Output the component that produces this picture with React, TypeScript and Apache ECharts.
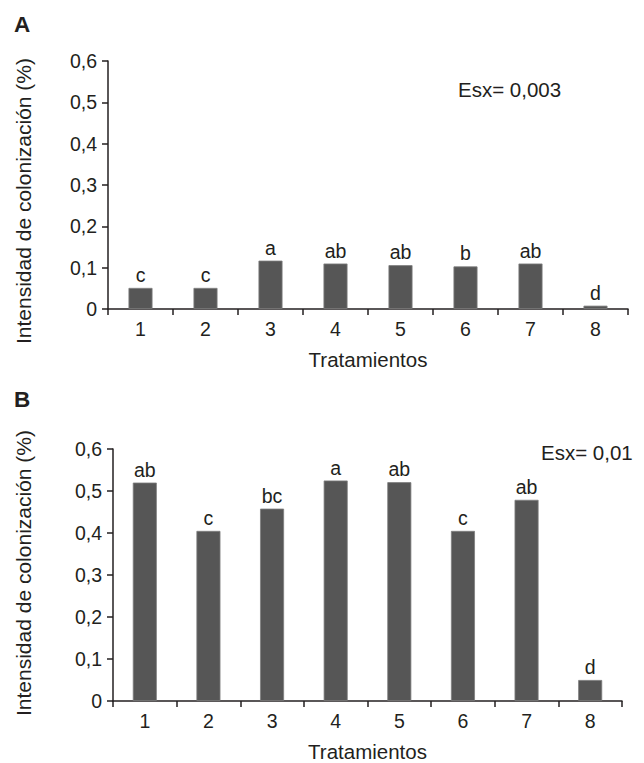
import React, { useEffect, useRef } from "react";
import * as echarts from "echarts";

const treatments = ["1", "2", "3", "4", "5", "6", "7", "8"];
const valuesA = [0.051, 0.051, 0.117, 0.11, 0.106, 0.103, 0.11, 0.008];
const lettersA = ["c", "c", "a", "ab", "ab", "b", "ab", "d"];
const valuesB = [0.52, 0.405, 0.458, 0.525, 0.521, 0.405, 0.479, 0.05];
const lettersB = ["ab", "c", "bc", "a", "ab", "c", "ab", "d"];
const panelTitles = ["A", "B"];
const esxTexts = ["Esx= 0,003", "Esx= 0,01"];
const yAxisTitle = "Intensidad de colonización (%)";
const xAxisTitle = "Tratamientos";

const FONT = "Liberation Sans, Arial, Helvetica, sans-serif";
const INK = "#231f20";
const BAR = "#565656";

export default function App() {
  const ref = useRef<HTMLDivElement>(null);
  useEffect(() => {
    if (!ref.current) return;
    const chart = echarts.init(ref.current, null, { renderer: "svg" });
    const fmt = (v: number) => (v === 0 ? "0" : v.toFixed(1).replace(".", ","));
    const mkX = (gridIndex: number) => ({
      type: "category",
      gridIndex,
      data: treatments,
      name: xAxisTitle,
      nameLocation: "middle",
      nameGap: 40,
      nameTextStyle: { fontFamily: FONT, fontSize: 20.5, color: INK },
      axisLine: { lineStyle: { color: INK, width: 1.5 } },
      axisTick: { show: true, length: 6, interval: 0, lineStyle: { color: INK, width: 1.5 } },
      axisLabel: { fontFamily: FONT, fontSize: 19.5, color: INK, margin: 10, interval: 0 },
    });
    const mkY = (gridIndex: number) => ({
      type: "value",
      gridIndex,
      min: 0,
      max: 0.6,
      interval: 0.1,
      splitLine: { show: false },
      axisLine: { show: true, lineStyle: { color: INK, width: 1.5 } },
      axisTick: { show: true, length: 6, lineStyle: { color: INK, width: 1.5 } },
      axisLabel: { fontFamily: FONT, fontSize: 19.5, color: INK, margin: 11, formatter: fmt },
    });
    const mkSeries = (idx: number, values: number[], letters: string[]) => ({
      type: "bar",
      xAxisIndex: idx,
      yAxisIndex: idx,
      data: values,
      barWidth: 24,
      itemStyle: { color: BAR, borderColor: "#7d7d7d", borderWidth: 0.8 },
      label: {
        show: true,
        position: "top",
        distance: 3,
        fontFamily: FONT,
        fontSize: 19.5,
        color: INK,
        formatter: (p: any) => letters[p.dataIndex],
      },
    });
    const txt = (text: string, x: number, y: number, extra: any = {}) => ({
      type: "text",
      x,
      y,
      style: {
        text,
        fontFamily: FONT,
        fontSize: 20.5,
        fill: INK,
        textAlign: "left",
        textVerticalAlign: "middle",
        ...extra,
      },
    });
    chart.setOption({
      animation: false,
      backgroundColor: "#ffffff",
      grid: [
        { left: 108, top: 61, width: 520, height: 248 },
        { left: 113, top: 449, width: 509, height: 253 },
      ],
      xAxis: [mkX(0), mkX(1)],
      yAxis: [mkY(0), mkY(1)],
      series: [mkSeries(0, valuesA, lettersA), mkSeries(1, valuesB, lettersB)],
      graphic: [
        txt(panelTitles[0], 14, 24, { fontSize: 22.5, fontWeight: "bold" }),
        txt(panelTitles[1], 14, 399, { fontSize: 22.5, fontWeight: "bold" }),
        txt(esxTexts[0], 458, 89),
        txt(esxTexts[1], 541, 452),
        {
          type: "text",
          x: 23,
          y: 201,
          rotation: Math.PI / 2,
          style: { text: yAxisTitle, fontFamily: FONT, fontSize: 21, fill: INK, textAlign: "center", textVerticalAlign: "middle" },
        },
        {
          type: "text",
          x: 23,
          y: 573,
          rotation: Math.PI / 2,
          style: { text: yAxisTitle, fontFamily: FONT, fontSize: 21, fill: INK, textAlign: "center", textVerticalAlign: "middle" },
        },
      ],
    });
    return () => chart.dispose();
  }, []);
  return (
    <div
      ref={ref}
      style={{ position: "fixed", left: 0, top: 0, width: 644, height: 763, background: "#fff" }}
    />
  );
}
